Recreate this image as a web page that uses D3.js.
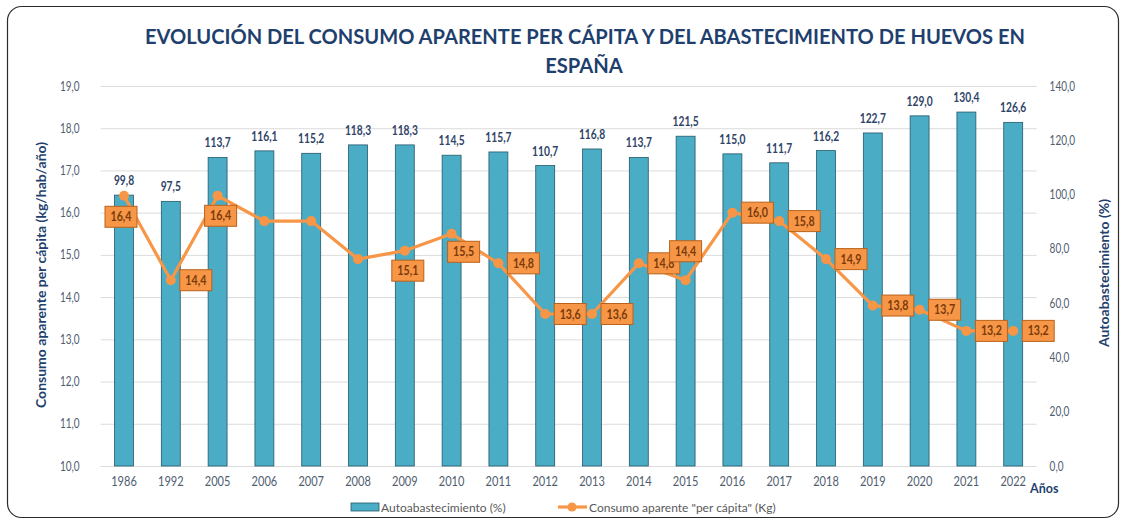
<!DOCTYPE html>
<html>
<head>
<meta charset="utf-8">
<script src="https://cdn.jsdelivr.net/npm/d3@7"></script>
<style>
  body { margin: 0; background: #fff; }
  text { font-family: Lato, "Open Sans", sans-serif; }
</style>
</head>
<body>
<script>
// data
var years = ["1986", "1992", "2005", "2006", "2007", "2008", "2009", "2010", "2011", "2012",
             "2013", "2014", "2015", "2016", "2017", "2018", "2019", "2020", "2021", "2022"];
var autoabastecimiento = [99.8, 97.5, 113.7, 116.1, 115.2, 118.3, 118.3, 114.5, 115.7, 110.7,
                          116.8, 113.7, 121.5, 115.0, 111.7, 116.2, 122.7, 129.0, 130.4, 126.6];
var consumo = [16.4, 14.4, 16.4, 15.8, 15.8, 14.9, 15.1, 15.5, 14.8, 13.6,
               13.6, 14.8, 14.4, 16.0, 15.8, 14.9, 13.8, 13.7, 13.2, 13.2];
// where each orange label sits (null = no label)
var labelPlace = ["belowleft", "right", "below", null, null, null, "below", "belowright", "right", "right",
                  "right", "right", "above", "right", "right", "right", "right", "right", "right", "right"];
var leftTicks = d3.range(10, 19.01, 1);
var rightTicks = d3.range(0, 140.01, 20);

var W = 1125, H = 522;
var plotL = 100.6, plotR = 1036.6, plotT = 86, plotB = 466;

var svg = d3.select("body").append("svg").attr("width", W).attr("height", H);

// horizontal squish, the source image is a bit narrow
function squish(sel, k) {
  sel.each(function() {
    var len = this.getComputedTextLength();
    d3.select(this).attr("textLength", len * k).attr("lengthAdjust", "spacingAndGlyphs");
  });
}
var comma = function(f) { return function(v) { return f(v).replace(".", ","); }; };
var fmt = comma(d3.format(".1f"));

// frame
svg.append("rect").attr("x", 7.5).attr("y", 6.5).attr("width", 1111).attr("height", 511)
  .attr("rx", 14).attr("fill", "#fff").attr("stroke", "#2b2b2b").attr("stroke-width", 1.2);

// title
var t1 = svg.append("text").attr("x", 585).attr("y", 44).attr("text-anchor", "middle")
  .attr("font-size", 21).attr("font-weight", "bold").attr("fill", "#1f3f6e")
  .text("EVOLUCIÓN DEL CONSUMO APARENTE PER CÁPITA Y DEL ABASTECIMIENTO DE HUEVOS EN");
t1.attr("textLength", 880).attr("lengthAdjust", "spacingAndGlyphs");
var t2 = svg.append("text").attr("x", 584).attr("y", 73).attr("text-anchor", "middle")
  .attr("font-size", 21).attr("font-weight", "bold").attr("fill", "#1f3f6e").text("ESPAÑA");
squish(t2, 0.96);

// scales
var x = d3.scaleBand().domain(years).range([plotL, plotR]).paddingInner(0.595).paddingOuter(0.2975);
var yL = d3.scaleLinear().domain([10, 19]).range([plotB, plotT]);
var yR = d3.scaleLinear().domain([0, 140]).range([plotB, plotT]);

// left axis + grid
var gL = svg.append("g").attr("transform", "translate(" + plotL + ",0)")
  .call(d3.axisLeft(yL).tickValues(leftTicks).tickFormat(fmt).tickSize(-(plotR - plotL)).tickPadding(21));
gL.select(".domain").remove();
gL.selectAll(".tick line").attr("stroke", "#dcdcdc");
gL.selectAll("text").attr("font-size", 12.5).attr("fill", "#4f5d70").attr("font-family", "Lato");

// right axis
var gR = svg.append("g").attr("transform", "translate(" + plotR + ",0)")
  .call(d3.axisRight(yR).tickValues(rightTicks).tickFormat(fmt).tickSize(0).tickPadding(13));
gR.select(".domain").remove();
gR.selectAll("text").attr("font-size", 12.5).attr("fill", "#4f5d70").attr("font-family", "Lato");

// x axis
var gX = svg.append("g").attr("transform", "translate(0," + plotB + ")")
  .call(d3.axisBottom(x).tickSize(0).tickPadding(11));
gX.select(".domain").remove();
gX.selectAll("text").attr("font-size", 13).attr("fill", "#4f5d70").attr("font-family", "Lato");

// bars
svg.selectAll(".bar").data(autoabastecimiento).enter().append("rect").classed("bar", true)
  .attr("x", function(d, i) { return x(years[i]); })
  .attr("y", function(d) { return yR(d); })
  .attr("width", x.bandwidth())
  .attr("height", function(d) { return plotB - yR(d); })
  .attr("fill", "#4bacc6").attr("stroke", "#24596b").attr("stroke-width", 0.8);

var barLabels = svg.selectAll(".barLabel").data(autoabastecimiento).enter().append("text").classed("barLabel", true)
  .attr("x", function(d, i) { return x(years[i]) + x.bandwidth() / 2; })
  .attr("y", function(d) { return yR(d) - 10; })
  .attr("text-anchor", "middle").attr("font-size", 12.5).attr("font-weight", "bold").attr("fill", "#2f4468")
  .text(fmt);

// line
var cx = function(i) { return x(years[i]) + x.bandwidth() / 2; };
var line = d3.line().x(function(d, i) { return cx(i); }).y(function(d) { return yL(d); });
svg.append("path").datum(consumo).attr("d", line).attr("fill", "none")
  .attr("stroke", "#f79646").attr("stroke-width", 3.2).attr("stroke-linejoin", "round");
svg.selectAll(".dot").data(consumo).enter().append("circle")
  .attr("cx", function(d, i) { return cx(i); }).attr("cy", function(d) { return yL(d); })
  .attr("r", 5).attr("fill", "#f79646");

// line labels
var offs = { below: [3, 20], belowleft: [-3, 21], right: [25, 0], belowright: [12, 18], above: [0, -29] };
var lab = svg.selectAll(".lineLabel").data(consumo.map(function(d, i) { return { v: d, i: i }; })
    .filter(function(d) { return labelPlace[d.i]; }))
  .enter().append("g").classed("lineLabel", true)
  .attr("transform", function(d) {
    var o = offs[labelPlace[d.i]];
    return "translate(" + (cx(d.i) + o[0]) + "," + (yL(d.v) + o[1]) + ")";
  });
lab.append("rect").attr("x", -16).attr("y", -10.5).attr("width", 32).attr("height", 21)
  .attr("fill", "#f79646").attr("stroke", "#b8621c").attr("stroke-width", 1);
var labText = lab.append("text").attr("y", 4.5).attr("text-anchor", "middle")
  .attr("font-size", 13).attr("font-weight", "bold").attr("fill", "#7a3b0c")
  .text(function(d) { return fmt(d.v); });

// axis titles
svg.append("text").attr("transform", "translate(46,275) rotate(-90)").attr("text-anchor", "middle")
  .attr("font-size", 14).attr("font-weight", "bold").attr("fill", "#1f3f6e")
  .text("Consumo aparente per cápita (kg/hab/año)");
svg.append("text").attr("transform", "translate(1109,273) rotate(-90)").attr("text-anchor", "middle")
  .attr("font-size", 14).attr("font-weight", "bold").attr("fill", "#1f3f6e")
  .text("Autoabastecimiento (%)");
svg.append("text").attr("x", 1030).attr("y", 493).attr("font-size", 12.5)
  .attr("font-weight", "bold").attr("fill", "#1f3f6e").text("Años");

// legend
svg.append("rect").attr("x", 351).attr("y", 503).attr("width", 28).attr("height", 8)
  .attr("fill", "#4bacc6").attr("stroke", "#24596b").attr("stroke-width", 0.8);
svg.append("text").attr("x", 381).attr("y", 512).attr("font-size", 12).attr("fill", "#595959")
  .text("Autoabastecimiento (%)");
svg.append("line").attr("x1", 558).attr("x2", 587).attr("y1", 507).attr("y2", 507)
  .attr("stroke", "#f79646").attr("stroke-width", 3.2);
svg.append("circle").attr("cx", 572).attr("cy", 507).attr("r", 4.5).attr("fill", "#f79646");
svg.append("text").attr("x", 589).attr("y", 512).attr("font-size", 12).attr("fill", "#595959")
  .text("Consumo aparente \"per cápita\" (Kg)");

squish(gL.selectAll("text"), 0.8);
squish(gR.selectAll("text"), 0.8);
squish(gX.selectAll("text"), 0.85);
squish(barLabels, 0.82);
squish(labText, 0.82);
</script>
</body>
</html>
